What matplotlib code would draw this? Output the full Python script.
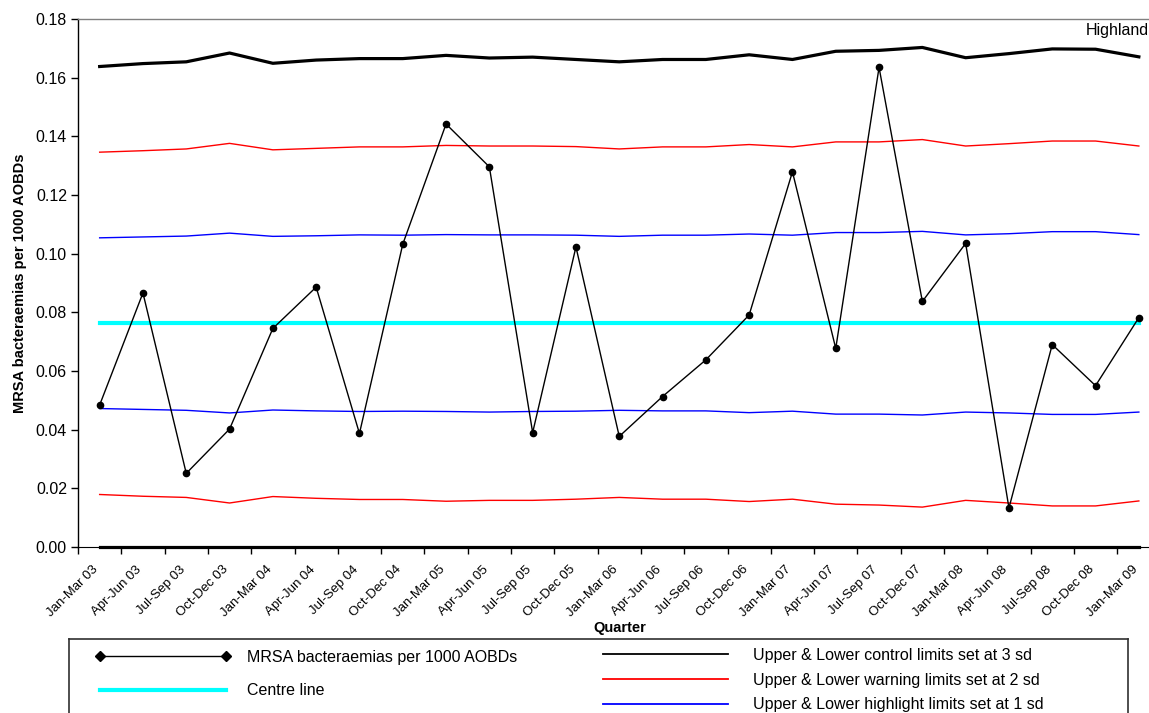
import matplotlib
matplotlib.use("Agg")
import matplotlib.pyplot as plt
import matplotlib.transforms as mtransforms
from matplotlib.lines import Line2D

plt.rcParams['font.family'] = ['Liberation Sans', 'DejaVu Sans']

quarters = ['Jan-Mar 03', 'Apr-Jun 03', 'Jul-Sep 03', 'Oct-Dec 03',
            'Jan-Mar 04', 'Apr-Jun 04', 'Jul-Sep 04', 'Oct-Dec 04',
            'Jan-Mar 05', 'Apr-Jun 05', 'Jul-Sep 05', 'Oct-Dec 05',
            'Jan-Mar 06', 'Apr-Jun 06', 'Jul-Sep 06', 'Oct-Dec 06',
            'Jan-Mar 07', 'Apr-Jun 07', 'Jul-Sep 07', 'Oct-Dec 07',
            'Jan-Mar 08', 'Apr-Jun 08', 'Jul-Sep 08', 'Oct-Dec 08',
            'Jan-Mar 09']

# MRSA bacteraemias per 1000 AOBDs
mrsa = [0.0484, 0.0866, 0.0251, 0.0402, 0.0745, 0.0886, 0.0387, 0.1032,
        0.1442, 0.1296, 0.0390, 0.1023, 0.0377, 0.0513, 0.0638, 0.0791,
        0.1279, 0.0677, 0.1635, 0.0837, 0.1035, 0.0133, 0.0690, 0.0550,
        0.0782]

centre = 0.0764

# 3 sd control limits
ucl = [0.1638, 0.1648, 0.1654, 0.1684, 0.1649, 0.1660, 0.1665, 0.1665,
       0.1676, 0.1667, 0.1670, 0.1662, 0.1654, 0.1662, 0.1662, 0.1678,
       0.1662, 0.1690, 0.1693, 0.1703, 0.1668, 0.1682, 0.1698, 0.1697,
       0.1671]
lcl = [0.0] * 25

# 2 sd warning limits
uwl = [0.1346, 0.1351, 0.1357, 0.1376, 0.1354, 0.1359, 0.1364, 0.1364,
       0.1369, 0.1367, 0.1367, 0.1365, 0.1357, 0.1364, 0.1364, 0.1372,
       0.1364, 0.1381, 0.1381, 0.1389, 0.1367, 0.1375, 0.1384, 0.1384,
       0.1367]
lwl = [0.0179, 0.0173, 0.0169, 0.0150, 0.0172, 0.0166, 0.0162, 0.0162,
       0.0156, 0.0159, 0.0159, 0.0163, 0.0169, 0.0163, 0.0163, 0.0155,
       0.0163, 0.0146, 0.0143, 0.0136, 0.0159, 0.0150, 0.0140, 0.0140,
       0.0157]

# 1 sd highlight limits
uhl = [0.1054, 0.1057, 0.1060, 0.1070, 0.1059, 0.1061, 0.1064, 0.1063,
       0.1065, 0.1064, 0.1064, 0.1063, 0.1059, 0.1063, 0.1063, 0.1067,
       0.1063, 0.1072, 0.1072, 0.1076, 0.1064, 0.1068, 0.1075, 0.1075,
       0.1065]
lhl = [0.0472, 0.0469, 0.0466, 0.0457, 0.0467, 0.0464, 0.0462, 0.0463,
       0.0462, 0.0460, 0.0462, 0.0463, 0.0466, 0.0464, 0.0464, 0.0458,
       0.0463, 0.0453, 0.0453, 0.0450, 0.0460, 0.0457, 0.0452, 0.0452,
       0.0460]

W, H = 1149, 713
fig = plt.figure(figsize=(W / 100, H / 100), dpi=100)
# plot area runs a little past the right edge of the page
ax = fig.add_axes([78 / W, 1 - 547 / H, 1082.5 / W, 528 / H])

x = list(range(len(quarters)))

ax.plot(x, uhl, color='#0000ff', lw=1.0)
ax.plot(x, lhl, color='#0000ff', lw=1.0)
ax.plot(x, uwl, color='#ff0000', lw=1.0)
ax.plot(x, lwl, color='#ff0000', lw=1.0)
ax.plot(x, [centre] * len(x), color='#00ffff', lw=3.0)
ax.plot(x, ucl, color='black', lw=2.3)
ax.plot(x, lcl, color='black', lw=2.3, clip_on=False, zorder=5)
ax.plot(x, mrsa, color='black', lw=1.0, marker='o', ms=4.5, zorder=6)

ax.set_xlim(-0.5, len(x) - 0.5)
ax.set_ylim(0, 0.18)
ax.set_yticks([i * 0.02 for i in range(10)])
ax.yaxis.set_major_formatter(matplotlib.ticker.FormatStrFormatter('%.2f'))
ax.tick_params(axis='y', labelsize=11.5, length=5, width=1, direction='out', pad=3)

ax.set_xticks(x)
ax.set_xticklabels(quarters, rotation=45, ha='right', va='center',
                   rotation_mode='anchor', fontsize=9.5)
ax.set_xticks([i - 0.5 for i in range(len(x) + 1)], minor=True)
ax.tick_params(axis='x', which='major', length=0, pad=15)
ax.tick_params(axis='x', which='minor', length=5, width=1, direction='out')
shift = mtransforms.ScaledTranslation(-3 / 100, 0, fig.dpi_scale_trans)
for lab in ax.get_xticklabels():
    lab.set_transform(lab.get_transform() + shift)

ax.spines['right'].set_visible(False)
ax.spines['top'].set_color('#808080')
ax.spines['top'].set_linewidth(1.0)
ax.spines['left'].set_linewidth(1.0)

ax.set_ylabel('MRSA bacteraemias per 1000 AOBDs', fontsize=10.5,
              fontweight='bold', labelpad=6)
fig.text(620 / W, 1 - 628 / H, 'Quarter', fontsize=10.5, fontweight='bold',
         ha='center', va='center')
fig.text(1086 / W, 1 - 30 / H, 'Highland', fontsize=11.5, ha='left', va='center')

# legend box
lax = fig.add_axes([69 / W, -0.05, (1128 - 69) / W, 1 - 639 / H + 0.05])
lax.set_xticks([])
lax.set_yticks([])
lax.patch.set_alpha(0)
for s in lax.spines.values():
    s.set_color('#303030')
    s.set_linewidth(1.2)

fs = 11.5
fpx = fs * 100 / 72
mrsa_key = Line2D([], [], color='black', lw=1.0, marker='D', ms=5)
centre_key = Line2D([], [], color='#00ffff', lw=3.0)
fig.legend([mrsa_key, centre_key],
           ['MRSA bacteraemias per 1000 AOBDs', 'Centre line'],
           loc='upper left', bbox_to_anchor=(95 / W, 1 - 650 / H),
           frameon=False, fontsize=fs, numpoints=2, borderpad=0,
           borderaxespad=0, handlelength=136 / fpx, handletextpad=16 / fpx,
           labelspacing=1.15)

ucl_key = Line2D([], [], color='black', lw=1.3)
uwl_key = Line2D([], [], color='#ff0000', lw=1.3)
uhl_key = Line2D([], [], color='#0000ff', lw=1.3)
fig.legend([ucl_key, uwl_key, uhl_key],
           ['Upper & Lower control limits set at 3 sd',
            'Upper & Lower warning limits set at 2 sd',
            'Upper & Lower highlight limits set at 1 sd'],
           loc='upper left', bbox_to_anchor=(603 / W, 1 - 648 / H),
           frameon=False, fontsize=fs, numpoints=1, borderpad=0,
           borderaxespad=0, handlelength=125 / fpx, handletextpad=25 / fpx,
           labelspacing=0.6)

fig.savefig('out.png', dpi=100)
